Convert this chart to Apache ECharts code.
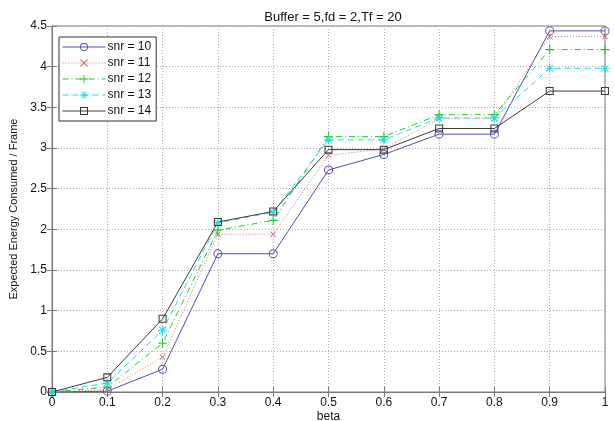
<!DOCTYPE html>
<html>
<head>
<meta charset="utf-8">
<script src="https://cdn.jsdelivr.net/npm/echarts@6/dist/echarts.min.js"></script>
<style>
  html, body { margin: 0; padding: 0; background: #fff; }
  #chart { width: 615px; height: 421px; }
</style>
</head>
<body>
<div id="chart"></div>
<script>
// beta values on the x axis
const beta = [0, 0.1, 0.2, 0.3, 0.4, 0.5, 0.6, 0.7, 0.8, 0.9, 1.0]

// expected energy per frame
const snr10 = [0, 0.01, 0.28, 1.70, 1.70, 2.73, 2.92, 3.17, 3.17, 4.44, 4.44]
const snr11 = [0, 0.03, 0.43, 1.94, 1.94, 2.91, 2.99, 3.36, 3.36, 4.37, 4.37]
const snr12 = [0, 0.06, 0.60, 1.99, 2.11, 3.14, 3.14, 3.41, 3.41, 4.21, 4.21]
const snr13 = [0, 0.11, 0.76, 2.08, 2.21, 3.10, 3.10, 3.37, 3.37, 3.98, 3.98]
const snr14 = [0, 0.18, 0.90, 2.09, 2.22, 2.98, 2.98, 3.24, 3.24, 3.70, 3.70]

const legendNames = ['snr = 10', 'snr = 11', 'snr = 12', 'snr = 13', 'snr = 14']

const pairs = ys => beta.map((x, i) => [x, ys[i]])

// marker shapes (thin strokes drawn as filled paths)
const ringMark = 'path://M5,0A5,5 0 1,1 4.99,0Z M5,1.1A3.9,3.9 0 1,0 5.01,1.1Z'
const boxMark = 'path://M0,0H10V10H0Z M1.3,1.3V8.7H8.7V1.3Z'
const xMark = 'path://M1,0L5,4L9,0L10,1L6,5L10,9L9,10L5,6L1,10L0,9L4,5L0,1Z'
const plusMark = 'path://M4.4,0H5.6V4.4H10V5.6H5.6V10H4.4V5.6H0V4.4H4.4Z'
const starMark = 'path://M4.4,0H5.6V4.4H10V5.6H5.6V10H4.4V5.6H0V4.4H4.4Z M1.5,1L5,4.3L8.5,1L9.2,1.7L5.7,5L9.2,8.3L8.5,9L5,5.7L1.5,9L0.8,8.3L4.3,5L0.8,1.7Z'

const colors = ['#5050b8', '#d07070', '#22cc22', '#22dede', '#3a3a3a']
const font = 'Liberation Sans, Arial, sans-serif'
const tickFont = { fontFamily: font, fontSize: 12, color: '#111' }
const axisGray = '#7a7a7a'

var chartDom = document.getElementById('chart')
var myChart = echarts.init(chartDom)
var option

const mkSeries = (name, data, color, type, symbol, size) => ({
  name: name,
  type: 'line',
  data: pairs(data),
  symbol: symbol,
  symbolSize: size,
  showSymbol: true,
  animation: false,
  lineStyle: { color: color, width: 1, type: type },
  itemStyle: { color: color, borderWidth: 0 },
  z: 3
})

option = {
  backgroundColor: '#fff',
  animation: false,
  title: {
    text: 'Buffer = 5,fd = 2,Tf = 20',
    left: 328,
    textAlign: 'center',
    top: 6,
    textStyle: { fontFamily: font, fontSize: 13, fontWeight: 'normal', color: '#111' }
  },
  legend: {
    orient: 'vertical',
    left: 59,
    top: 37,
    padding: [4, 5, 4, 3],
    itemGap: 4,
    itemWidth: 43,
    itemHeight: 10,
    backgroundColor: '#fff',
    borderColor: '#333',
    borderWidth: 1,
    borderRadius: 0,
    data: legendNames.map(n => ({
      name: n,
      lineStyle: { width: 1 },
      itemStyle: { borderWidth: 0 }
    })),
    textStyle: { fontFamily: font, fontSize: 12, color: '#111', padding: [0, 0, 0, -3] }
  },
  grid: {
    left: 52, right: 10, top: 26, bottom: 29,
    outerBoundsMode: 'none',
    show: true, borderColor: axisGray, borderWidth: 1
  },
  xAxis: [
    {
      type: 'value', min: 0, max: 1, interval: 0.1,
      name: 'beta', nameLocation: 'middle', nameGap: 19, nameMoveOverlap: false,
      nameTextStyle: { fontFamily: font, fontSize: 12, color: '#111', verticalAlign: 'top' },
      axisLine: { show: true, lineStyle: { color: axisGray } },
      axisTick: { show: true, inside: true, length: 5, lineStyle: { color: axisGray } },
      axisLabel: { ...tickFont, margin: 5, formatter: v => String(+v.toFixed(1)) },
      splitLine: { show: true, lineStyle: { color: '#aaa', type: [1, 2] } }
    },
    {
      type: 'value', min: 0, max: 1, interval: 0.1, position: 'top',
      axisLine: { show: true, lineStyle: { color: axisGray } },
      axisTick: { show: true, inside: true, length: 5, lineStyle: { color: axisGray } },
      axisLabel: { show: false },
      splitLine: { show: false }
    }
  ],
  yAxis: [
    {
      type: 'value', min: 0, max: 4.5, interval: 0.5,
      name: 'Expected Energy Consumed / Frame', nameLocation: 'middle', nameGap: 29,
      nameTextStyle: { fontFamily: font, fontSize: 11, color: '#111' },
      axisLine: { show: true, lineStyle: { color: axisGray } },
      axisTick: { show: true, inside: true, length: 5, lineStyle: { color: axisGray } },
      axisLabel: { ...tickFont, margin: 5, formatter: v => String(+v.toFixed(1)) },
      splitLine: { show: true, lineStyle: { color: '#aaa', type: [1, 2] } }
    },
    {
      type: 'value', min: 0, max: 4.5, interval: 0.5, position: 'right',
      axisLine: { show: true, lineStyle: { color: axisGray } },
      axisTick: { show: true, inside: true, length: 5, lineStyle: { color: axisGray } },
      axisLabel: { show: false },
      splitLine: { show: false }
    }
  ],
  series: [
    mkSeries('snr = 10', snr10, colors[0], 'solid', ringMark, 9),
    mkSeries('snr = 11', snr11, colors[1], [1, 2], xMark, 6),
    mkSeries('snr = 12', snr12, colors[2], [6, 3, 1, 3], plusMark, 9),
    mkSeries('snr = 13', snr13, colors[3], [6, 4], starMark, 9),
    mkSeries('snr = 14', snr14, colors[4], 'solid', boxMark, 8)
  ]
}
option && myChart.setOption(option)
</script>
</body>
</html>
